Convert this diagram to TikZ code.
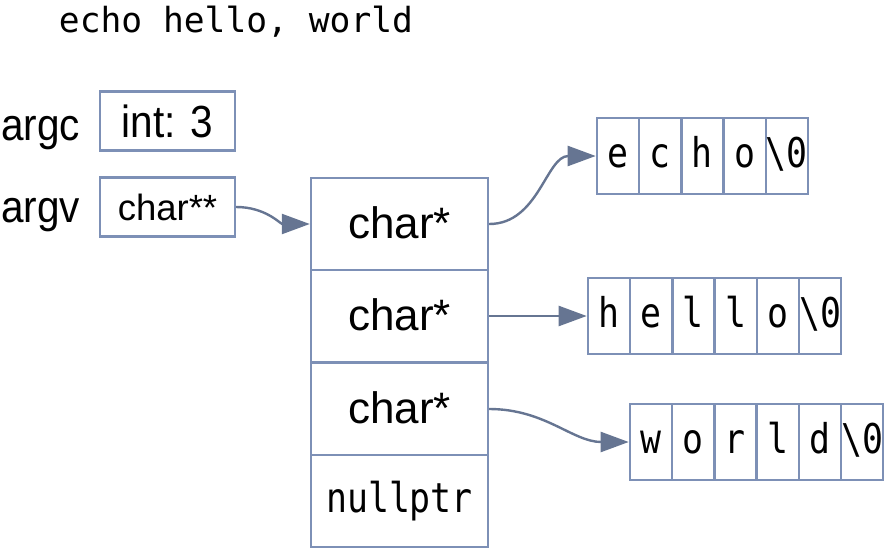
\documentclass[tikz,border=0pt]{standalone}
\usepackage{fontspec}
\setmainfont{Liberation Sans}
\setmonofont{DejaVu Sans Mono}
\newfontfamily\cellfont[FakeStretch=0.85]{DejaVu Sans Mono}
\newfontfamily\labelfont[FakeStretch=0.9]{Liberation Sans}
\usetikzlibrary{arrows.meta}
\definecolor{boxline}{RGB}{125,144,182}
\definecolor{ptrline}{RGB}{102,117,146}
\tikzset{
  cell/.style={draw=boxline,line width=2.4pt,minimum width=42.2pt,minimum height=76pt,inner sep=0pt,text height=28pt,text depth=6pt,font=\fontsize{41}{44}\cellfont},
  slot/.style={draw=boxline,line width=2.4pt,minimum width=177pt,minimum height=92.2pt,inner sep=0pt,text height=31pt,text depth=3pt,font=\fontsize{44}{48}\selectfont},
  var/.style={draw=boxline,line width=2.4pt,minimum width=135pt,minimum height=59pt,inner sep=0pt},
  ptr/.style={draw=ptrline,line width=2.4pt,-{Triangle[length=28pt,width=20pt]}}
}
\begin{document}
\begin{tikzpicture}[x=1pt,y=-1pt]
\useasboundingbox (0,0) rectangle (886,549);
\node[anchor=base,inner sep=0pt,font=\fontsize{34.6}{36}\ttfamily] (cmd) at (236,32) {echo hello, world};
\node[anchor=base west,inner sep=0pt,font=\fontsize{45}{48}\labelfont] (argc) at (1,140) {argc};
\node[anchor=base west,inner sep=0pt,font=\fontsize{45}{48}\labelfont] (argv) at (1,222) {argv};
\node[var,text height=33pt,text depth=1pt,font=\fontsize{45}{48}\labelfont] (argcbox) at (167.5,121) {int: 3};
\node[var,text height=28pt,text depth=2pt,font=\fontsize{36.5}{40}\selectfont] (argvbox) at (167.5,207) {char**};
\foreach \y [count=\i] in {224,316,409}
  \node[slot] (slot\i) at (399.5,\y) {char*};
\node[slot,text height=28pt,text depth=6pt,font=\fontsize{41}{44}\cellfont] (slot4) at (399.5,501) {nullptr};
\foreach \c [count=\i] in {e,c,h,o,\textbackslash0}
  \node[cell] (echo\i) at ({618+(\i-1)*42.2},156) {\c};
\foreach \c [count=\i] in {h,e,l,l,o,\textbackslash0}
  \node[cell] (hello\i) at ({609+(\i-1)*42.2},316) {\c};
\foreach \c [count=\i] in {w,o,r,l,d,\textbackslash0}
  \node[cell] (world\i) at ({651+(\i-1)*42.2},442) {\c};
\draw[ptr] (argvbox.east) to[out=0,in=180] (slot1.west);
\draw[ptr] (slot1.east) to[out=0,in=180] (echo1.west);
\draw[ptr] (slot2.east) -- (hello1.west);
\draw[ptr] (slot3.east) to[out=0,in=180] (world1.west);
\end{tikzpicture}
\end{document}
